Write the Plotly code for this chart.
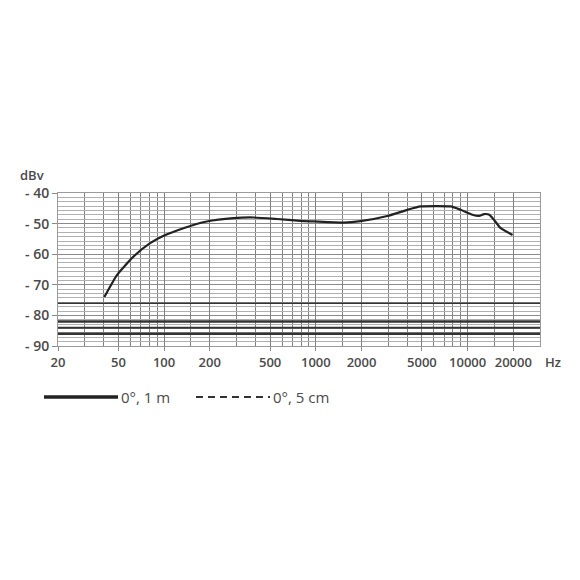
import plotly.graph_objects as go

# Frequency response, 0°, 1 m
freq_hz = [40.4, 48.8, 62.8, 80.9, 99.3, 134, 191, 287, 389, 555, 791, 968, 1528, 1969,
           2960, 4010, 4900, 7730, 9000, 10760, 11900, 12840, 13900, 14940, 16530, 19770]
level_dbv = [-74.0, -66.9, -60.8, -56.4, -54.0, -51.5, -49.3, -48.2, -48.0, -48.5, -49.1, -49.3,
             -49.7, -49.2, -47.5, -45.5, -44.4, -44.4, -45.5, -47.1, -47.5, -46.9, -47.1, -48.8,
             -51.5, -53.7]

x_tick_vals = [20, 50, 100, 200, 500, 1000, 2000, 5000, 10000, 20000]
x_tick_text = ["20", "50", "100", "200", "500", "1000", "2000", "5000", "10000", "20000"]
x_minor_grid = [30, 40, 60, 70, 80, 90, 150, 300, 400, 600, 700, 800, 900, 1500, 3000, 4000,
                6000, 7000, 8000, 9000, 15000]
y_tick_vals = [-40, -50, -60, -70, -80, -90]
y_tick_text = ["- 40", "- 50", "- 60", "- 70", "- 80", "- 90"]

# dark horizontal lines in the scan
dark_levels = [-76.0, -82.0, -84.0, -86.0]
dark_widths = [1.5, 2.5, 2.0, 2.5]

FONT = "Open Sans"
TXT = "#4a4a4a"

# page body has an 8px offset; layout expressed in figure coords
W, H = 572, 572
L, R, T, B = 50, 40, 185, 234
PW = W - L - R
PH = H - T - B


def px(xs):
    return (xs - 8 - L) / PW


def py(ys):
    return (H - B - (ys - 8)) / PH


fig = go.Figure()
fig.add_trace(go.Scatter(x=freq_hz, y=level_dbv, mode="lines",
                         line=dict(color="#222222", width=2.2, shape="spline", smoothing=0.5),
                         showlegend=False, hoverinfo="skip"))

shapes = []
for lv, w in zip(dark_levels, dark_widths):
    shapes.append(dict(type="line", xref="paper", yref="y", x0=0, x1=1, y0=lv, y1=lv,
                       line=dict(color="#333333", width=w), layer="above"))
shapes.append(dict(type="line", xref="x", yref="y", x0=4.1761, x1=4.4771, y0=-44.1, y1=-44.1,
                   line=dict(color="#444444", width=1.5)))
# legend
shapes.append(dict(type="line", xref="paper", yref="paper", x0=px(44), x1=px(118),
                   y0=py(397), y1=py(397), line=dict(color="#222222", width=3.5)))
shapes.append(dict(type="line", xref="paper", yref="paper", x0=px(196), x1=px(270),
                   y0=py(397), y1=py(397), line=dict(color="#333333", width=2, dash="7px,5px")))

annotations = [
    dict(text="dBv", xref="paper", yref="paper", x=px(18), y=py(175), xanchor="left",
         yanchor="middle", showarrow=False, font=dict(family=FONT, size=13, color=TXT, weight=600)),
    dict(text="Hz", xref="paper", yref="paper", x=px(543), y=py(362), xanchor="left",
         yanchor="middle", showarrow=False, font=dict(family=FONT, size=13, color=TXT, weight=600)),
    dict(text="0°, 1 m", xref="paper", yref="paper", x=px(119), y=py(397), xanchor="left",
         yanchor="middle", showarrow=False, font=dict(family=FONT, size=15, color=TXT)),
    dict(text="0°, 5 cm", xref="paper", yref="paper", x=px(271), y=py(397), xanchor="left",
         yanchor="middle", showarrow=False, font=dict(family=FONT, size=15, color=TXT)),
]

fig.update_layout(
    width=W, height=H, margin=dict(l=L, r=R, t=T, b=B, autoexpand=False),
    paper_bgcolor="white", plot_bgcolor="white",
    shapes=shapes, annotations=annotations,
    xaxis=dict(type="log", range=[1.30103, 4.4771], tickmode="array", tickvals=x_tick_vals,
               ticktext=x_tick_text, showgrid=True, gridcolor="#808080", gridwidth=1,
               ticks="outside", ticklen=4, tickcolor="#8a8a8a",
               minor=dict(tickmode="array", tickvals=x_minor_grid, showgrid=True,
                          gridcolor="#808080", gridwidth=1, ticks=""),
               showline=True, linecolor="#9a9a9a", mirror=True, zeroline=False,
               tickfont=dict(family=FONT, size=13, color=TXT, weight=600)),
    yaxis=dict(range=[-90, -40], tickmode="array", tickvals=y_tick_vals, ticktext=y_tick_text,
               showgrid=True, gridcolor="#8a8a8a", gridwidth=1,
               ticks="outside", ticklen=5, tickcolor="#8a8a8a",
               minor=dict(tick0=-40, dtick=10/7, showgrid=True, gridcolor="#b0b0b0", gridwidth=1, ticks=""),
               showline=True, linecolor="#9a9a9a", mirror=True, zeroline=False,
               tickfont=dict(family=FONT, size=14, color=TXT, weight=600)),
)

fig.write_html("out.html")
